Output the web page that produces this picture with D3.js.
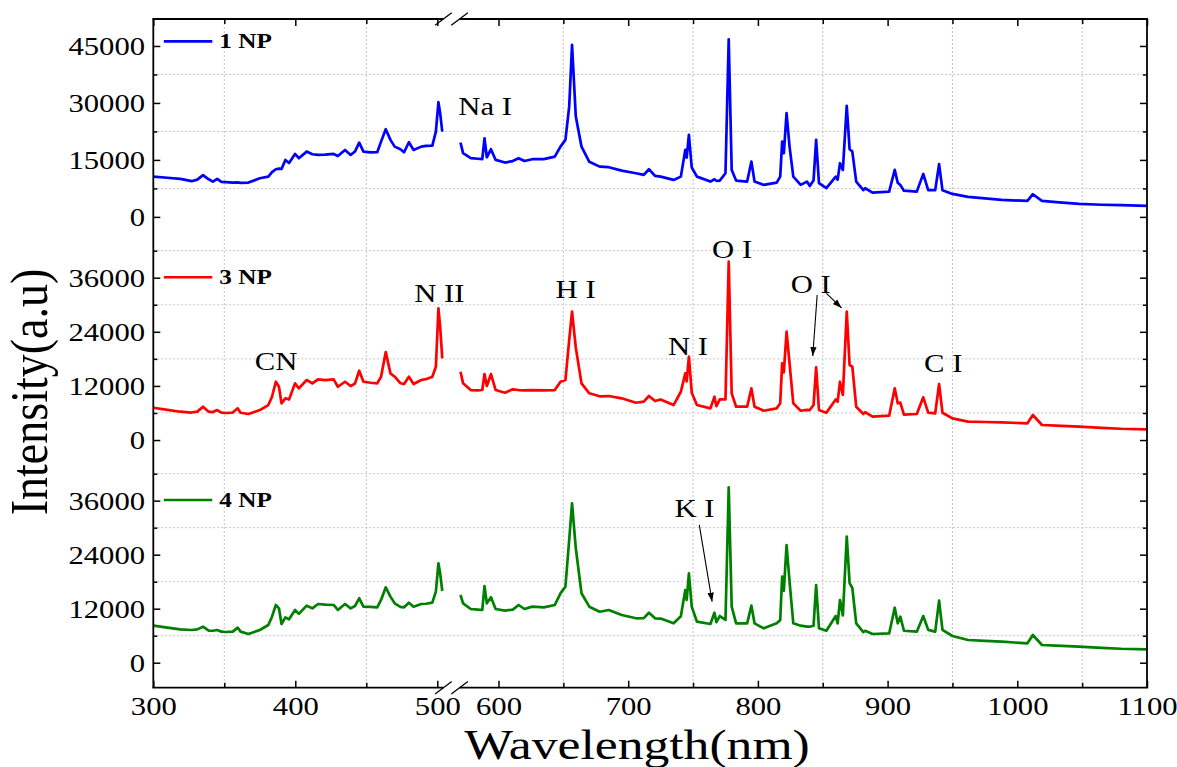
<!DOCTYPE html>
<html><head><meta charset="utf-8">
<script src="https://cdn.jsdelivr.net/npm/d3@7"></script>
<style>
body{margin:0;background:#fff}
svg{display:block}
text{font-family:"Liberation Serif","Times New Roman",serif;fill:#000}
</style>
</head><body>
<svg id="chart" width="1177" height="767"></svg>
<script>
// ---------------- DATA ----------------
const seriesNames = ["1 NP", "3 NP", "4 NP"];
const seriesColors = ["#0000ff", "#ff0000", "#008000"];

// segment 1 (left of axis break)
const wl1 = [300,310,319,327,331,335,339,342,345,348,351,356,359.4,361.5,367,375,381,383.6,386.3,388.5,390.3,393,395.6,399.8,402.5,408,412,416,421,427,430,435,439,442,445,448,453,457.7,460.4,463.7,467,470,474,476.6,480,483.3,488.7,492,496.5,499,500.8,502,503.5];
const np1_seg1 = [10600,10300,10000,9400,9800,11000,9900,9300,10000,9200,9130,9000,9100,8950,9030,10180,10600,11800,12550,12700,12600,15000,14200,16580,15450,17190,16500,16320,16400,16580,16050,17630,16320,17200,19560,17190,17000,17020,19820,23080,20270,18500,17820,17020,19660,17630,18500,18700,18770,22450,30190,27300,22450];
const np3_seg1 = [7160,6700,6280,6100,6300,7390,6280,6200,6650,6060,6000,6100,7030,6060,5770,6650,7760,9600,12930,11820,8140,9250,9000,12570,11460,13310,12570,13460,13300,13460,11820,12930,11980,12500,15370,12930,12700,12570,14040,19520,14790,14040,12600,12420,14040,12420,13310,13500,14040,16260,29210,25130,18120];
const np4_seg1 = [8220,7800,7420,7270,7400,8000,7120,7100,7270,6900,6820,6900,7790,6900,6380,7270,8380,10220,12820,12080,8600,10070,9640,11710,10850,12670,12080,13040,12900,12820,11710,13040,12080,12600,14310,12450,12400,12310,13940,16750,14680,13190,12400,12300,13330,12450,13040,13100,13330,15780,22080,19860,15930];

// segment 2 (right of axis break)
const wl2 = [570.7,572.7,578.6,584,587.5,589.2,591,594.2,597.8,605,611,615.5,620,626,635,643.4,647.8,651.6,654.5,656.7,659.6,664,670,678,685,695,706,712,716,720.7,725,735,740.6,744,745.1,746.8,749,753,763.4,766.5,768,770.6,775,777.5,779.8,783.2,791.7,795,797.4,804.5,814.5,817.2,818.7,820,822.1,824.4,827.3,833,837.8,840,842.9,844.9,847.1,852.8,860,861.5,863.3,865.5,868.5,870.7,872.8,875.8,881.3,882.7,888.4,901.2,905.5,907.8,909.8,912.6,922.5,927.5,931.3,936.7,939.7,942.3,950,962,975,988,1007.8,1012,1019,1030,1047.6,1065,1080,1100];
const np1_seg2 = [19560,16770,15450,15300,15190,20700,15700,17820,15000,14300,14700,15450,14700,15190,15200,15870,18500,20270,29030,45270,26400,18500,14500,13240,13080,12190,11500,11050,12550,10790,10600,9740,10600,17630,15600,21580,13000,10600,9300,9900,9500,9560,11500,46770,12370,9560,9300,14560,9300,8420,9030,10600,19820,16770,27300,18500,10600,8420,9300,8160,9560,20270,8860,7550,10600,9800,14130,12370,29220,17820,17190,9300,7030,7550,6400,6660,12370,9000,8400,6900,6660,11320,7030,7030,13870,7030,6050,5270,4900,4470,4210,5970,4210,3900,3420,3200,3100,2900];
const np3_seg2 = [15150,12570,11090,11000,11090,14640,11980,14640,11090,10500,11240,11090,11000,11090,11000,11090,12930,13310,22180,28460,20480,12570,10360,9700,9760,9250,8270,8500,9760,8640,9000,7760,10710,14790,13000,18480,10500,7760,7030,9600,7500,9000,9000,39550,10360,7390,7390,11460,7390,6500,7030,8140,17010,15000,24020,17010,8140,6500,6700,6650,7760,16120,6650,6060,9000,8500,12930,10000,28460,16630,16260,7390,5770,6200,5180,5400,11460,8140,8300,5620,5770,9470,6060,5920,12420,6060,4810,4070,4000,3920,3700,5550,3330,3200,2960,2700,2500,2370];
const np4_seg2 = [15040,13190,11930,11800,11710,17040,13190,14530,11930,11560,11800,12820,11930,12450,12300,12820,15420,16900,27260,35420,25420,15420,12450,11330,11710,10600,9870,9900,11110,9870,9800,8750,10330,16150,13930,19860,12450,9110,8600,11110,9000,10370,9500,38970,12450,8750,8750,12670,8750,7640,8750,9500,19110,16000,26150,18000,8750,8220,8000,8000,8200,17260,7640,7110,10370,8750,13930,10500,28000,17700,16600,8750,6800,7100,6380,6500,12220,8750,10220,7100,6890,10370,7300,6900,13780,7300,5930,5040,4850,4670,4300,6150,3930,3800,3560,3300,3100,2980];

const seg1Series = [np1_seg1, np3_seg1, np4_seg1];
const seg2Series = [np1_seg2, np3_seg2, np4_seg2];

// tick values
const xMajor1 = [300, 400, 500];
const xMinor1 = [350, 450];
const xMajor2 = [600, 700, 800, 900, 1000, 1100];
const xMinor2 = [650, 750, 850, 950, 1050];
const yMajor = [[0,15000,30000,45000],[0,12000,24000,36000],[0,12000,24000,36000]];
const yMinor = [[7500,22500,37500],[6000,18000,30000,42000],[6000,18000,30000,42000]];

// peak annotations: [text, panel, wavelength, intensity]
const labels = [
  ["Na I", 0, 569, 26850],
  ["CN", 1, 371.5, 15530],
  ["N II", 1, 483.8, 30670],
  ["H I", 1, 644, 31430],
  ["O I", 1, 764.7, 40300],
  ["N I", 1, 730.6, 18850],
  ["O I", 1, 825.3, 32540],
  ["C I", 1, 928.1, 15150],
  ["K I", 2, 735.7, 32440]
];
// arrows: [panel, wl0, v0, wl1, v1]
const arrows = [
  [1, 845.7, 32160, 842.3, 18630],
  [1, 852.8, 32540, 864.5, 29300],
  [2, 754.8, 30600, 764.7, 13560]
];
const legendVals = [46200, 36100, 36150];

// ---------------- LAYOUT ----------------
const L = 153.3, R = 1147, T = 19, B = 687.7;
const SX = 1.18;
const panelRanges = [[245, T], [468, 245], [B, 468]];
const panelDomains = [[-7400, 52100], [-6200, 43250], [-5550, 43250]];

const svg = d3.select("#chart");
const xs1 = d3.scaleLinear().domain([300, 505]).range([L, L + 205 * 1.42]);
const xs2 = d3.scaleLinear().domain([600, 1100]).range([498.5, R]);
const xOf = w => (w <= 505 ? xs1(w) : xs2(w));
const ys = panelDomains.map((d, i) => d3.scaleLinear().domain(d).range(panelRanges[i]));

const gridColor = "#c4c4c4";
// vertical grid
const gGrid = svg.append("g");
[...xMinor1.map(v => xs1(v)), ...xMinor2.map(v => xs2(v))].forEach(x => {
  gGrid.append("line").attr("x1", x).attr("x2", x).attr("y1", T).attr("y2", B)
    .attr("stroke", gridColor).attr("stroke-width", 1).attr("stroke-dasharray", "2,2");
});
// horizontal grid
ys.forEach((y, i) => {
  yMinor[i].forEach(v => {
    gGrid.append("line").attr("x1", L).attr("x2", R).attr("y1", y(v)).attr("y2", y(v))
      .attr("stroke", gridColor).attr("stroke-width", 1).attr("stroke-dasharray", "2,2");
  });
});

// series lines
const line = d3.line().x(d => xOf(d[0])).y(d => d[1]);
for (let i = 0; i < 3; i++) {
  const y = ys[i];
  const s1 = wl1.map((w, k) => [w, y(seg1Series[i][k])]);
  const s2 = wl2.map((w, k) => [w, y(seg2Series[i][k])]);
  [s1, s2].forEach(s => {
    svg.append("path").attr("d", line(s)).attr("fill", "none")
      .attr("stroke", seriesColors[i]).attr("stroke-width", 2.7)
      .attr("stroke-linejoin", "round");
  });
}

// axes
function styleAxis(g) {
  g.select(".domain").remove();
  g.selectAll(".tick line").attr("stroke", "#000").attr("stroke-width", 1.5);
}
function stretchText(g) {
  g.selectAll(".tick text").attr("transform", `scale(${SX},1)`)
    .style("font-family", '"Liberation Serif","Times New Roman",serif')
    .style("font-size", "26px").attr("fill", "#000");
}
// bottom
[[xs1, xMajor1, xMinor1], [xs2, xMajor2, xMinor2]].forEach(([sc, maj, min]) => {
  const gb = svg.append("g").attr("transform", `translate(0,${B})`)
    .call(d3.axisBottom(sc).tickValues(maj).tickSize(-7).tickPadding(9).tickFormat(d3.format("d")));
  styleAxis(gb); stretchText(gb);
  const gbm = svg.append("g").attr("transform", `translate(0,${B})`)
    .call(d3.axisBottom(sc).tickValues(min).tickSize(-5).tickFormat(""));
  styleAxis(gbm);
  const gt = svg.append("g").attr("transform", `translate(0,${T})`)
    .call(d3.axisTop(sc).tickValues(maj).tickSize(-7).tickFormat(""));
  styleAxis(gt);
  const gtm = svg.append("g").attr("transform", `translate(0,${T})`)
    .call(d3.axisTop(sc).tickValues(min).tickSize(-5).tickFormat(""));
  styleAxis(gtm);
});
// left / right per panel
ys.forEach((y, i) => {
  const gl = svg.append("g").attr("transform", `translate(${L},0)`)
    .call(d3.axisLeft(y).tickValues(yMajor[i]).tickSize(-7).tickPadding(7).tickFormat(d3.format("d")));
  styleAxis(gl); stretchText(gl);
  gl.selectAll(".tick text").attr("dy", "0.34em");
  const glm = svg.append("g").attr("transform", `translate(${L},0)`)
    .call(d3.axisLeft(y).tickValues(yMinor[i]).tickSize(-4).tickFormat(""));
  styleAxis(glm);
  const gr = svg.append("g").attr("transform", `translate(${R},0)`)
    .call(d3.axisRight(y).tickValues(yMajor[i]).tickSize(-7).tickFormat(""));
  styleAxis(gr);
  const grm = svg.append("g").attr("transform", `translate(${R},0)`)
    .call(d3.axisRight(y).tickValues(yMinor[i]).tickSize(-4).tickFormat(""));
  styleAxis(grm);
});

// frame lines with break
const breakA = xs1(505) - 1, breakB = xs2(570);
const frame = svg.append("g").attr("stroke", "#000").attr("stroke-width", 1.8).attr("fill", "none");
frame.append("line").attr("x1", L).attr("x2", L).attr("y1", T).attr("y2", B);
frame.append("line").attr("x1", R).attr("x2", R).attr("y1", T).attr("y2", B);
[T, B].forEach(yy => {
  frame.append("line").attr("x1", L - 0.9).attr("x2", breakA).attr("y1", yy).attr("y2", yy);
  frame.append("line").attr("x1", breakB).attr("x2", R + 0.9).attr("y1", yy).attr("y2", yy);
  [breakA, breakB].forEach(cx => {
    svg.append("line").attr("x1", cx - 8.3).attr("y1", yy + 6.2).attr("x2", cx + 8.3).attr("y2", yy - 6.2)
      .attr("stroke", "#000").attr("stroke-width", 1.3);
  });
});

// legends
ys.forEach((y, i) => {
  const yy = y(legendVals[i]);
  svg.append("line").attr("x1", L + 10.5).attr("x2", L + 59).attr("y1", yy).attr("y2", yy)
    .attr("stroke", seriesColors[i]).attr("stroke-width", 2.6);
  svg.append("text").attr("transform", `translate(${L + 66},${yy + 7}) scale(1.2,1)`)
    .style("font-size", "21px").style("font-weight", "bold").text(seriesNames[i]);
});

// annotations
labels.forEach(([t, p, w, v]) => {
  svg.append("text").attr("transform", `translate(${xOf(w)},${ys[p](v)}) scale(${SX},1)`)
    .style("font-size", "26px").text(t);
});
svg.append("defs").append("marker").attr("id", "ah").attr("viewBox", "0 0 10 10")
  .attr("refX", 10).attr("refY", 5).attr("markerWidth", 9).attr("markerHeight", 9)
  .attr("markerUnits", "userSpaceOnUse").attr("orient", "auto")
  .append("path").attr("d", "M0,1.5 L10,5 L0,8.5 Z").attr("fill", "#000");
arrows.forEach(([p, w0, v0, w1, v1]) => {
  svg.append("line").attr("x1", xOf(w0)).attr("y1", ys[p](v0)).attr("x2", xOf(w1)).attr("y2", ys[p](v1))
    .attr("stroke", "#000").attr("stroke-width", 1.1).attr("marker-end", "url(#ah)");
});

// axis titles
svg.append("text").attr("transform", `translate(637,759) scale(1.2,1)`)
  .attr("text-anchor", "middle").style("font-size", "43px").text("Wavelength(nm)");
svg.append("text").attr("transform", `translate(47,392) scale(1.15,1) rotate(-90)`)
  .attr("text-anchor", "middle").style("font-size", "46px").text("Intensity(a.u)");
</script>
</body></html>
